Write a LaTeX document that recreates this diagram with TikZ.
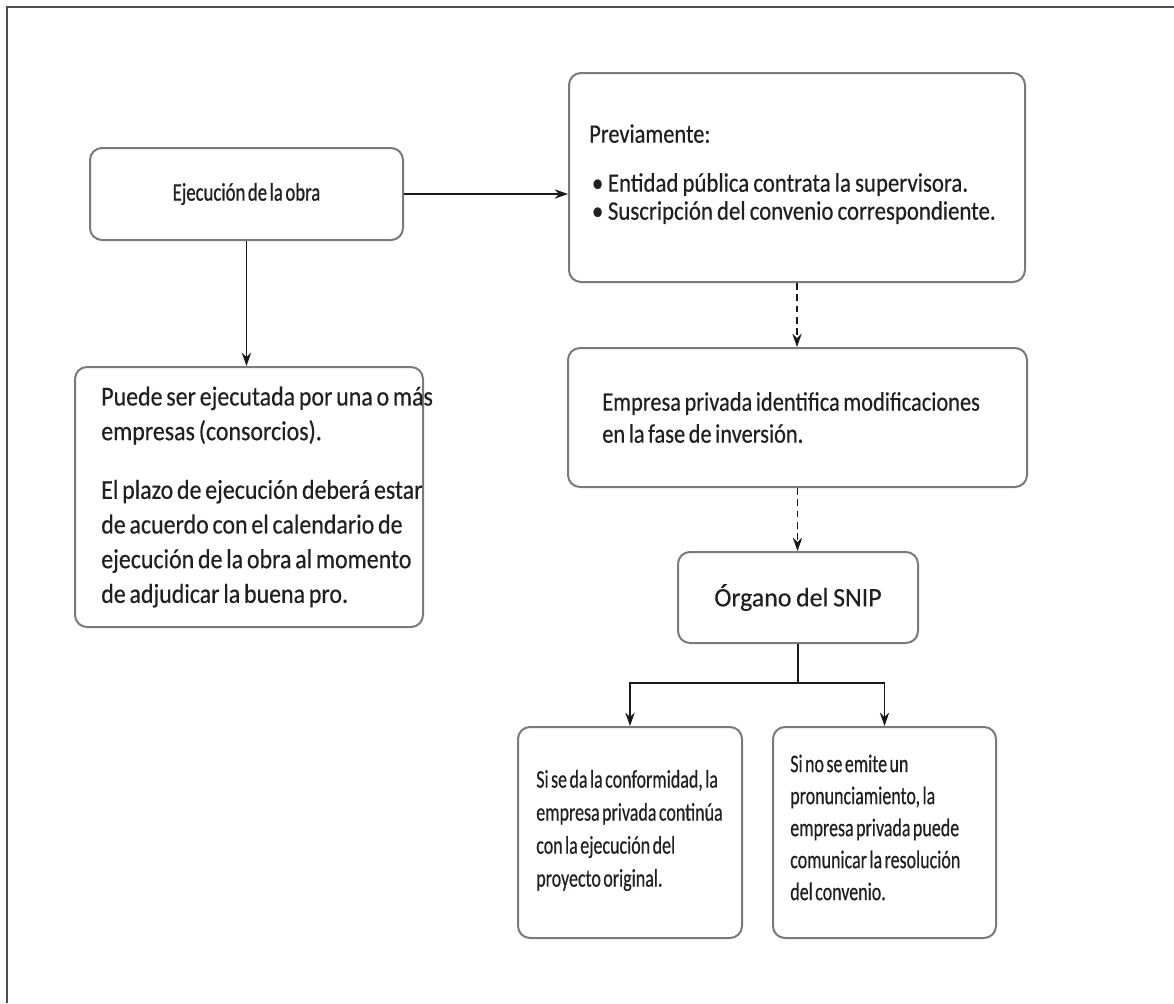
\documentclass[tikz,border=0pt]{standalone}
\usepackage{fontspec}
\setmainfont{Carlito}
\newfontfamily\fmain[FakeStretch=0.84,WordSpace=0.7,FakeBold=0.4]{Carlito}
\newfontfamily\fbig[FakeStretch=0.875,WordSpace=0.7,FakeBold=0.4]{Carlito}
\newfontfamily\fbul[FakeStretch=0.855,WordSpace=0.8,FakeBold=0.4]{Carlito}
\newfontfamily\fwide[FakeStretch=0.97,WordSpace=0.8,FakeBold=0.4]{Carlito}
\newfontfamily\fnarrow[FakeStretch=0.71,WordSpace=0.6,FakeBold=0.4]{Carlito}
\newfontfamily\ftitle[FakeStretch=0.74,WordSpace=0.6,FakeBold=0.8]{Carlito}
\usetikzlibrary{arrows.meta}
\definecolor{boxgray}{HTML}{7A7A7A}
\definecolor{txt}{HTML}{231F20}
\definecolor{framec}{HTML}{4D4D4D}
\begin{document}
\begin{tikzpicture}[x=0.75pt,y=-0.75pt,
  box/.style={draw=boxgray,line width=1.5pt,rounded corners=9pt,inner sep=0pt,text=txt,align=center},
  txtnode/.style={inner sep=0pt,text=txt,align=left,anchor=west},
  conn/.style={line width=1.1pt,draw=black!90,-{Stealth[length=10pt,width=7pt]}},
  dconn/.style={conn,dash pattern=on 5pt off 3.5pt}]
\useasboundingbox (0,0) rectangle (1174,1003);
\fill[white] (0,0) rectangle (1174,1003);
\draw[framec,line width=1.5pt] (7,1003) -- (7,7) -- (1174,7);

% boxes
\node[box,minimum width=234.75pt,minimum height=69pt,
  font=\ftitle\fontsize{19}{22}\selectfont] (b1) at (246.5,194) {Ejecución de la obra};
\node[box,minimum width=342pt,minimum height=156.75pt] (b2) at (797,177.5) {};
\node[box,minimum width=261pt,minimum height=195pt] (b3) at (249,497) {};
\node[box,minimum width=344.25pt,minimum height=104.25pt] (b4) at (797.5,417.5) {};
\node[box,minimum width=180pt,minimum height=68.25pt,
  font=\fwide\fontsize{20}{22}\selectfont] (b5) at (798,597.5) {Órgano del SNIP};
\node[box,minimum width=168pt,minimum height=158.25pt] (b6) at (630,832.5) {};
\node[box,minimum width=167.25pt,minimum height=158.25pt] (b7) at (884.5,832.5) {};

% texts
\node[txtnode,font=\fmain\fontsize{20}{21}\selectfont] (t2) at ([xshift=15.75pt,yshift=2.5pt]b2.west)
  {Previamente:\\[15.75pt]
   {\fbul\hspace*{2pt}\makebox[12pt][l]{•}Entidad pública contrata la supervisora.}\\
   {\fbul\hspace*{2pt}\makebox[12pt][l]{•}Suscripción del convenio correspondiente.}};

\node[txtnode,font=\fbig\fontsize{20.5}{26}\selectfont] (t3) at ([xshift=20.25pt]b3.west)
  {Puede ser ejecutada por una o más\\
   empresas (consorcios).\\[18pt]
   El plazo de ejecución deberá estar\\
   de acuerdo con el calendario de\\
   ejecución de la obra al momento\\
   de adjudicar la buena pro.};

\node[txtnode,font=\fmain\fontsize{20}{24}\selectfont] (t4) at ([xshift=26.25pt]b4.west)
  {Empresa privada identifica modificaciones\\
   en la fase de inversión.};

\node[txtnode,font=\fnarrow\fontsize{19}{24.75}\selectfont] (t6) at ([xshift=14.25pt,yshift=1.5pt]b6.west)
  {Si se da la conformidad, la\\
   empresa privada continúa\\
   con la ejecución del\\
   proyecto original.};

\node[txtnode,font=\fnarrow\fontsize{19}{24}\selectfont] (t7) at ([xshift=13.5pt,yshift=3.75pt]b7.west)
  {Si no se emite un\\
   pronunciamiento, la\\
   empresa privada puede\\
   comunicar la resolución\\
   del convenio.};

% connectors
\draw[conn] (b1.east) -- (b1.east -| b2.west);
\draw[conn] (b1.south) -- (b1.south |- b3.north);
\draw[dconn] (b2.south) -- (b2.south |- b4.north);
\draw[dconn] (b4.south) -- (b4.south |- b5.north);
\coordinate (br) at (798,683);
\draw[line width=1.1pt,draw=black!90] (b5.south) -- (br);
\draw[conn] (br) -| (b6.north);
\draw[conn] (br) -| (b7.north);
\end{tikzpicture}
\end{document}
